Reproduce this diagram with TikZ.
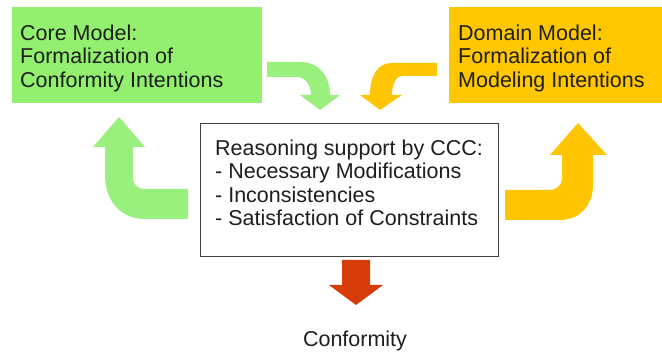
\documentclass[tikz,border=0pt]{standalone}
\usepackage{fontspec}
\setmainfont{Liberation Sans}
\definecolor{coregreen}{HTML}{93F06E}
\definecolor{arrowgreen}{HTML}{9AF07C}
\definecolor{domainyellow}{HTML}{FFC700}
\definecolor{arrowyellow}{HTML}{FFC500}
\definecolor{conformred}{HTML}{D63C0A}
\definecolor{inkgray}{HTML}{1E1E1E}
\begin{document}
\begin{tikzpicture}[x=1pt,y=-1pt,
  modelbox/.style={draw=none, inner sep=0pt, anchor=north west},
  bodytext/.style={inner sep=0pt, anchor=north west, align=left, text=inkgray,
    font=\fontsize{21.5pt}{23.5pt}\selectfont},
  cccbox/.style={draw=inkgray!85, line width=1.3pt, inner sep=0pt, anchor=north west,
    minimum width=298pt, minimum height=133pt}]
\useasboundingbox (0,0) rectangle (662,355);
\fill[white] (0,0) rectangle (662,355);

% the two model boxes
\node[modelbox, fill=coregreen, minimum width=250pt, minimum height=96pt] (core) at (12,7) {};
\node[modelbox, fill=domainyellow, minimum width=213pt, minimum height=96pt] (domain) at (449,7) {};
\node[bodytext] (coretext) at (20,24.3) {Core Model:\\Formalization of\\Conformity Intentions};
\node[bodytext] (domaintext) at (458,24.3) {Domain Model:\\Formalization of\\Modeling Intentions};

% reasoning box
\node[cccbox] (ccc) at (200,123) {};
\node[bodytext] (ccctext) at (215,139.3) {Reasoning support by CCC:\\- Necessary Modifications\\- Inconsistencies\\- Satisfaction of Constraints};

% result
\node[inner sep=0pt, anchor=base, text=inkgray, font=\fontsize{21.5pt}{23.5pt}\selectfont] (conf) at (355,347) {Conformity};

% green bent arrow: core model into the reasoning box
\fill[arrowgreen] (267,62) -- (300,62) .. controls (318,62) and (330,75) .. (330,95)
  -- (340,95) -- (320,110) -- (300,95) -- (311,95)
  .. controls (311,85) and (305,77) .. (297,77) -- (267,77) -- cycle;

% yellow bent arrow: domain model into the reasoning box
\fill[arrowyellow] (437,63) -- (392,63) .. controls (378,63) and (370,75) .. (370,95)
  -- (360,95) -- (380,110) -- (402,95) -- (392,95)
  .. controls (392,84) and (396,76) .. (402,76) -- (437,76) -- cycle;

% green bent arrow: reasoning box back to the core model
\fill[arrowgreen] (188,219) -- (145,219) .. controls (120,219) and (105,200) .. (105,175)
  -- (105,147) -- (93,147) -- (119,117) -- (145,147) -- (133,147) -- (133,178)
  .. controls (133,185) and (138,189) .. (145,189) -- (188,189) -- cycle;

% yellow bent arrow: reasoning box back to the domain model
\fill[arrowyellow] (505,190) -- (548,190) .. controls (556,190) and (562,186) .. (562,178)
  -- (562,155) -- (550,155) -- (578,123) -- (607,155) -- (593,155) -- (593,185)
  .. controls (593,205) and (580,220) .. (560,220) -- (505,220) -- cycle;

% red block arrow down to the result
\fill[conformred] (342,260) -- (370,260) -- (370,285) -- (383,285) -- (356,305)
  -- (329,285) -- (342,285) -- cycle;
\end{tikzpicture}
\end{document}
